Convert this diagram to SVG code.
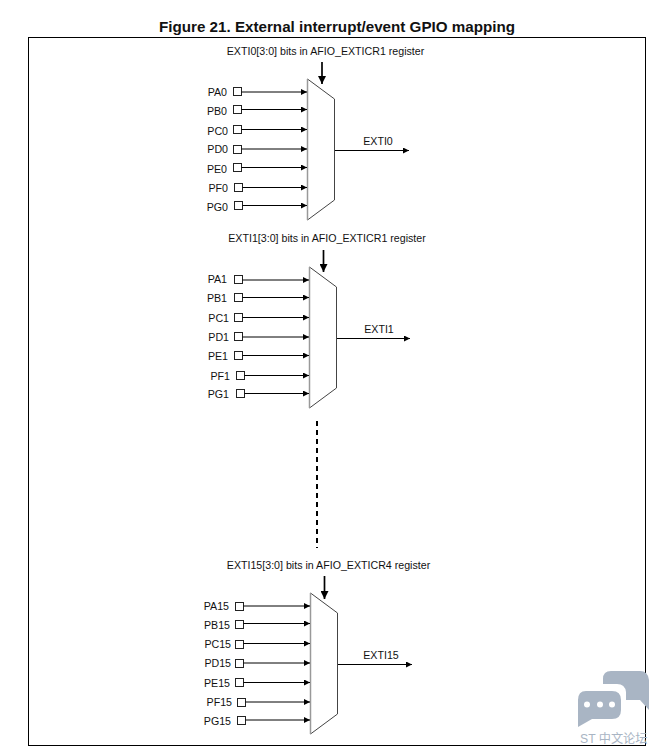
<svg xmlns="http://www.w3.org/2000/svg" width="657" height="754" viewBox="0 0 657 754">
<defs>
<marker id="a" markerUnits="userSpaceOnUse" markerWidth="6" markerHeight="6" refX="6" refY="3" orient="auto"><path d="M0 0L6 3L0 6Z" fill="#000"/></marker>
<marker id="b" markerUnits="userSpaceOnUse" markerWidth="9" markerHeight="8" refX="8" refY="4" orient="auto"><path d="M0 0L8 4L0 8Z" fill="#000"/></marker>
</defs>
<style>
text{font-family:"Liberation Sans",Arial,sans-serif;font-size:10.65px;fill:#111}
.t{font-size:15.2px;font-weight:700;text-anchor:middle}
.m{text-anchor:middle}
.e{text-anchor:end}
.mux{fill:#fff;stroke:#444;stroke-width:1}
.edge{fill:none;stroke:#999;stroke-width:1.5}
.box{fill:#fff;stroke:#222;stroke-width:1}
.w{fill:none;stroke:#000;stroke-width:1;marker-end:url(#a)}
.s{fill:none;stroke:#000;stroke-width:1.7;marker-end:url(#b)}
</style>
<rect width="657" height="754" fill="#fff"/>
<text class="t" x="337" y="32">Figure 21. External interrupt/event GPIO mapping</text>
<rect x="28.500" y="37.500" width="617" height="708" fill="none" stroke="#000" stroke-width="1"/>
<g id="mux0">
<text class="m" x="325.500" y="55">EXTI0[3:0] bits in AFIO_EXTICR1 register</text>
<path class="mux" d="M307.500 79V220L334.500 200V99Z"/><path class="edge" d="M307.500 79V220"/>
<text class="e" x="227" y="96">PA0</text><rect class="box" x="233.500" y="87.500" width="8" height="8"/>
<text class="e" x="227" y="115">PB0</text><rect class="box" x="233.500" y="105.500" width="8" height="8"/>
<text class="e" x="228" y="135">PC0</text><rect class="box" x="233.500" y="125.500" width="8" height="8"/>
<text class="e" x="228" y="153">PD0</text><rect class="box" x="233.500" y="145.500" width="8" height="8"/>
<text class="e" x="227" y="173">PE0</text><rect class="box" x="233.500" y="163.500" width="8" height="8"/>
<text class="e" x="228" y="192">PF0</text><rect class="box" x="234.500" y="183.500" width="8" height="8"/>
<text class="e" x="228" y="211">PG0</text><rect class="box" x="234.500" y="201.500" width="8" height="8"/>
<text class="m" x="378" y="145">EXTI0</text>
</g>
<g id="mux1">
<text class="m" x="327" y="242">EXTI1[3:0] bits in AFIO_EXTICR1 register</text>
<path class="mux" d="M309.500 267V408L336.500 388V287Z"/><path class="edge" d="M309.500 267V408"/>
<text class="e" x="227" y="283">PA1</text><rect class="box" x="234.500" y="275.500" width="8" height="8"/>
<text class="e" x="227" y="302">PB1</text><rect class="box" x="234.500" y="293.500" width="8" height="8"/>
<text class="e" x="229" y="322">PC1</text><rect class="box" x="234.500" y="313.500" width="8" height="8"/>
<text class="e" x="229" y="341">PD1</text><rect class="box" x="234.500" y="332.500" width="8" height="8"/>
<text class="e" x="228" y="360">PE1</text><rect class="box" x="234.500" y="351.500" width="8" height="8"/>
<text class="e" x="230" y="380">PF1</text><rect class="box" x="236.500" y="371.500" width="8" height="8"/>
<text class="e" x="229" y="398">PG1</text><rect class="box" x="236.500" y="389.500" width="8" height="8"/>
<text class="m" x="379" y="333">EXTI1</text>
</g>
<g id="mux15">
<text class="m" x="328.500" y="569">EXTI15[3:0] bits in AFIO_EXTICR4 register</text>
<path class="mux" d="M310.500 593V734L337.500 714V613Z"/><path class="edge" d="M310.500 593V734"/>
<text class="e" x="229" y="610">PA15</text><rect class="box" x="235.500" y="602.500" width="8" height="8"/>
<text class="e" x="230" y="629">PB15</text><rect class="box" x="235.500" y="620.500" width="8" height="8"/>
<text class="e" x="231" y="648">PC15</text><rect class="box" x="235.500" y="640.500" width="8" height="8"/>
<text class="e" x="231" y="667">PD15</text><rect class="box" x="235.500" y="659.500" width="8" height="8"/>
<text class="e" x="230" y="687">PE15</text><rect class="box" x="235.500" y="678.500" width="8" height="8"/>
<text class="e" x="232" y="706">PF15</text><rect class="box" x="237.500" y="698.500" width="8" height="8"/>
<text class="e" x="231" y="725">PG15</text><rect class="box" x="237.500" y="716.500" width="8" height="8"/>
<text class="m" x="381" y="659">EXTI15</text>
</g>
<g id="connectors">
<path class="s" d="M322 62V84"/><path class="s" d="M323.500 250V272"/><path class="s" d="M324.500 576V599"/>
<path class="w" d="M241.500 92H307"/><path class="w" d="M241.500 109.500H307"/><path class="w" d="M241.500 129.500H307"/><path class="w" d="M241.500 149H307"/><path class="w" d="M241.500 167.500H307"/><path class="w" d="M242.500 187.500H307"/><path class="w" d="M242.500 205.500H307"/>
<path class="w" d="M242.500 280H309"/><path class="w" d="M242.500 297.500H309"/><path class="w" d="M242.500 317.500H309"/><path class="w" d="M242.500 337H309"/><path class="w" d="M242.500 355.500H309"/><path class="w" d="M244.500 375.500H309"/><path class="w" d="M244.500 393.500H309"/>
<path class="w" d="M243.500 606H310"/><path class="w" d="M243.500 623.500H310"/><path class="w" d="M243.500 643.500H310"/><path class="w" d="M243.500 663H310"/><path class="w" d="M243.500 682.500H310"/><path class="w" d="M245.500 702H310"/><path class="w" d="M245.500 720H310"/>
<path class="w" d="M335 150.500H409"/><path class="w" d="M337 338.500H410"/><path class="w" d="M338 664.500H412"/>
<path d="M317 421V548" fill="none" stroke="#000" stroke-width="2" stroke-dasharray="5 4"/>
</g>
<g id="watermark">
<path d="M611 671H640Q648 671 649 680V710L640 700H626V692Q625 684 617 684H603V679Q603 671 611 671Z" fill="#a9b5c4"/>
<path d="M586 691H612Q621 691 621 700V710Q621 719 612 719H592L578 727V700Q578 691 586 691Z" fill="#a9b5c4"/>
<circle cx="587" cy="704.500" r="3" fill="#fff"/><circle cx="600" cy="704.500" r="3" fill="#fff"/><circle cx="612" cy="704.500" r="3" fill="#fff"/>
<text x="580" y="743" style="font-family:'Liberation Sans','Noto Sans CJK SC',sans-serif;font-size:12.2px;fill:#a9b5c4">ST 中文论坛</text>
</g>
</svg>
